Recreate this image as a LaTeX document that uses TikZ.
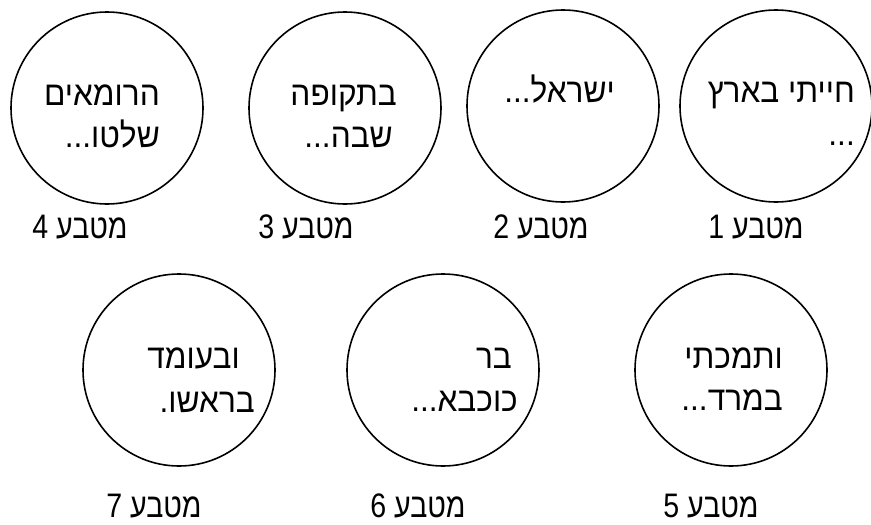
\documentclass[tikz,border=0pt]{standalone}
\usepackage{fontspec}
\newfontfamily\hebfont[Script=Hebrew,FakeStretch=0.93]{Liberation Sans}
\newfontfamily\hebnarrow[Script=Hebrew,FakeStretch=0.84]{Liberation Sans}
\TeXXeTstate=1

\begin{document}
\begin{tikzpicture}[x=1pt,y=-1pt,
  coin/.style={draw,circle,line width=1.6pt,minimum size=192pt,inner sep=0pt},
  txt/.style={anchor=base east,inner sep=0pt,font=\hebfont\fontsize{34}{40}\selectfont},
  lbl/.style={anchor=base,inner sep=0pt,font=\hebnarrow\fontsize{34}{40}\selectfont}]
\useasboundingbox (0,0) rectangle (871,525);
% top row
\node[coin] (coin4) at (107,108) {};
\node[coin] (coin3) at (345,108) {};
\node[coin] (coin2) at (563,106) {};
\node[coin] (coin1) at (776,106) {};
\node[txt] (t4a) at (160,105) {\beginR הרומאים\endR};
\node[txt] (t4b) at (160,147) {\beginR שלטו...\endR};
\node[txt] (t3a) at (397,105) {\beginR בתקופה\endR};
\node[txt] (t3b) at (393,147) {\beginR שבה...\endR};
\node[txt] (t2a) at (615,102) {\beginR ישראל...\endR};
\node[txt] (t1a) at (855,102) {\beginR חייתי בארץ\endR};
\node[txt] (t1b) at (855,145) {...};
\node[lbl] (lbl4) at (80,238) {\beginR מטבע 4\endR};
\node[lbl] (lbl3) at (306,238) {\beginR מטבע 3\endR};
\node[lbl] (lbl2) at (541,238) {\beginR מטבע 2\endR};
\node[lbl] (lbl1) at (756,238) {\beginR מטבע 1\endR};
% bottom row
\node[coin] (coin7) at (179,370) {};
\node[coin] (coin6) at (443,370) {};
\node[coin] (coin5) at (731,370) {};
\node[txt] (t7a) at (240,368) {\beginR ובעומד\endR};
\node[txt] (t7b) at (255,412) {\beginR בראשו.\endR};
\node[txt] (t6a) at (512,368) {\beginR בר\endR};
\node[txt] (t6b) at (518,411) {\beginR כוכבא...\endR};
\node[txt] (t5a) at (783,368) {\beginR ותמכתי\endR};
\node[txt] (t5b) at (783,410) {\beginR במרד...\endR};
\node[lbl] (lbl7) at (154,517) {\beginR מטבע 7\endR};
\node[lbl] (lbl6) at (418,517) {\beginR מטבע 6\endR};
\node[lbl] (lbl5) at (711,517) {\beginR מטבע 5\endR};
\end{tikzpicture}
\end{document}
